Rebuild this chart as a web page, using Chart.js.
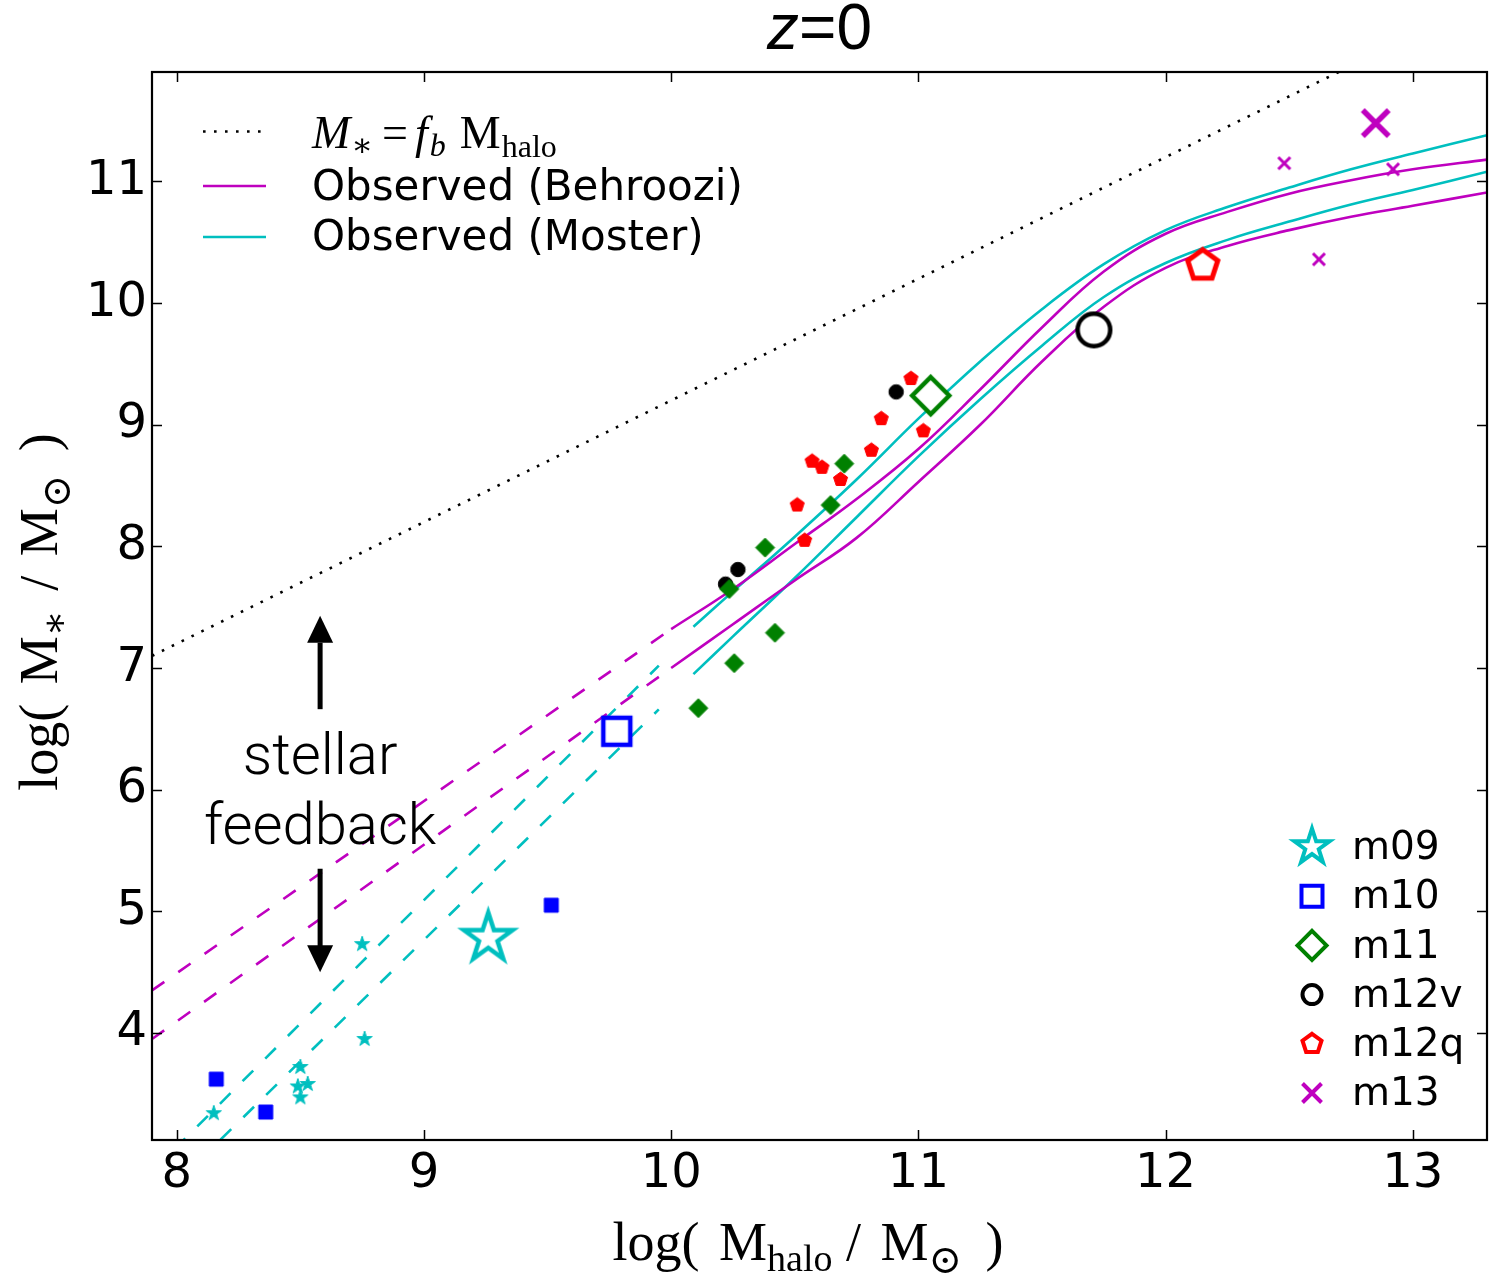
<!DOCTYPE html>
<html>
<head>
<meta charset="utf-8">
<script src="https://cdn.jsdelivr.net/npm/chart.js@4.4.1/dist/chart.umd.min.js"></script>
<style>
  html, body { margin: 0; padding: 0; background: #ffffff; }
  #wrap { width: 1490px; height: 1277px; }
</style>
</head>
<body>
<div id="wrap"><canvas id="smhm" width="1490" height="1277"></canvas></div>
<script>
// ---- axes ----
const xTickValues = [8, 9, 10, 11, 12, 13];
const yTickValues = [4, 5, 6, 7, 8, 9, 10, 11];
const xRange = [7.9, 13.3];
const yRange = [3.12, 11.9];

// ---- M* = f_b Mhalo ----
const fbLineX = [7.9, 13.3];
const fbLineY = [7.1, 12.5];

// ---- Behroozi relation: solid range and power-law extension ----
const behrooziX = [10.0, 10.25, 10.5, 10.75, 11.0, 11.25, 11.5, 11.75, 12.0, 12.25, 12.5, 12.75, 13.0, 13.3];
const behrooziHighY = [7.32, 7.65, 8.02, 8.39, 8.8, 9.29, 9.8, 10.26, 10.57, 10.75, 10.9, 11.01, 11.1, 11.18];
const behrooziLowY = [7.0, 7.36, 7.72, 8.07, 8.53, 9.0, 9.52, 9.97, 10.29, 10.47, 10.6, 10.71, 10.8, 10.91];
const behrooziExtX = [7.9, 10.0];
const behrooziHighExtY = [4.35, 7.32];
const behrooziLowExtY = [3.95, 7.0];

// ---- Moster relation: solid range and power-law extension ----
const mosterX = [10.09, 10.25, 10.5, 10.75, 11.0, 11.25, 11.5, 11.75, 12.0, 12.25, 12.5, 12.75, 13.0, 13.3];
const mosterHighY = [7.34, 7.63, 8.08, 8.55, 9.05, 9.52, 9.95, 10.32, 10.6, 10.79, 10.95, 11.1, 11.23, 11.38];
const mosterLowY = [6.95, 7.26, 7.74, 8.24, 8.74, 9.21, 9.65, 10.05, 10.33, 10.52, 10.67, 10.81, 10.93, 11.08];
const mosterExtX = [7.9, 9.95];
const mosterHighExtY = [2.86, 7.02];
const mosterLowExtY = [2.57, 6.66];

// ---- main simulated haloes ----
const haloNames = ['m09', 'm10', 'm11', 'm12v', 'm12q', 'm13'];
const mainX = [9.26, 9.78, 11.05, 11.71, 12.15, 12.85];
const mainY = [4.78, 6.48, 9.24, 9.78, 10.31, 11.48];

// ---- satellite / neighbouring haloes in each run ----
const m09SubX = [8.15, 8.50, 8.49, 8.53, 8.50, 8.75, 8.76];
const m09SubY = [3.34, 3.72, 3.56, 3.58, 3.47, 4.73, 3.95];
const m10SubX = [8.16, 8.36, 9.515];
const m10SubY = [3.62, 3.35, 5.05];
const m11SubX = [10.235, 10.38, 10.645, 10.70, 10.42, 10.255, 10.11];
const m11SubY = [7.65, 7.99, 8.34, 8.68, 7.29, 7.04, 6.67];
const m12vSubX = [10.22, 10.27, 10.91];
const m12vSubY = [7.69, 7.81, 9.27];
const m12qSubX = [10.97, 10.85, 11.02, 10.81, 10.57, 10.61, 10.685, 10.51, 10.54];
const m12qSubY = [9.38, 9.05, 8.95, 8.79, 8.70, 8.65, 8.55, 8.34, 8.05];
const m13SubX = [12.48, 12.92, 12.62];
const m13SubY = [11.15, 11.10, 10.36];

const COL = {
  cyan: 'rgb(0,191,191)',
  magenta: 'rgb(191,0,191)',
  blue: '#0000ff',
  green: '#008000',
  black: '#000000',
  red: '#ff0000'
};

function traceShape(g, shape, r) {
  g.beginPath();
  if (shape === 'star') {
    for (let i = 0; i < 10; i++) {
      const rr = i % 2 === 0 ? r : r * 0.381966;
      const a = -Math.PI / 2 + i * Math.PI / 5;
      const px = rr * Math.cos(a), py = rr * Math.sin(a);
      if (i === 0) g.moveTo(px, py); else g.lineTo(px, py);
    }
    g.closePath();
  } else if (shape === 'pentagon') {
    for (let i = 0; i < 5; i++) {
      const a = -Math.PI / 2 + i * 2 * Math.PI / 5;
      const px = r * Math.cos(a), py = r * Math.sin(a);
      if (i === 0) g.moveTo(px, py); else g.lineTo(px, py);
    }
    g.closePath();
  } else if (shape === 'square') {
    g.rect(-r, -r, 2 * r, 2 * r);
  } else if (shape === 'diamond') {
    g.moveTo(0, -r); g.lineTo(r, 0); g.lineTo(0, r); g.lineTo(-r, 0); g.closePath();
  } else if (shape === 'circle') {
    g.arc(0, 0, r, 0, Math.PI * 2);
  } else if (shape === 'x') {
    g.moveTo(-r, -r); g.lineTo(r, r); g.moveTo(-r, r); g.lineTo(r, -r);
  }
}

function paintShape(g, shape, r, lw, stroke, fill) {
  traceShape(g, shape, r);
  if (fill && shape !== 'x') { g.fillStyle = fill; g.fill(); }
  if (lw > 0) {
    g.lineWidth = lw; g.strokeStyle = stroke; g.lineJoin = 'miter'; g.miterLimit = 10;
    g.stroke();
  }
}

function markerCanvas(shape, r, lw, stroke, fill) {
  const size = Math.ceil(2 * (r + lw * 2 + 2));
  const cv = document.createElement('canvas');
  cv.width = size; cv.height = size;
  const g = cv.getContext('2d');
  g.translate(size / 2, size / 2);
  paintShape(g, shape, r, lw, stroke, fill);
  return cv;
}

// marker look per run: shape, colour, open (main) / filled (others)
const runStyle = {
  m09:  { shape: 'star',     color: COL.cyan,    big: [25.5, 4.5], small: [8, 1],   legend: [18.5, 4] },
  m10:  { shape: 'square',   color: COL.blue,    big: [13.5, 4.5], small: [7, 1],   legend: [10.5, 4] },
  m11:  { shape: 'diamond',  color: COL.green,   big: [18.5, 4.5], small: [9.5, 1], legend: [14.5, 4] },
  m12v: { shape: 'circle',   color: COL.black,   big: [16.3, 4.5], small: [7.2, 1], legend: [9.5, 4] },
  m12q: { shape: 'pentagon', color: COL.red,     big: [15.8, 5],   small: [7.4, 1], legend: [10, 4] },
  m13:  { shape: 'x',        color: COL.magenta, big: [13, 5.5],   small: [6, 3],   legend: [9.5, 4] }
};

const pts = (xs, ys) => xs.map((x, i) => ({ x: x, y: ys[i] }));

function lineSet(xs, ys, color, dash, extra) {
  return Object.assign({
    type: 'line',
    data: pts(xs, ys),
    borderColor: color,
    borderWidth: 2.6,
    borderDash: dash || [],
    pointRadius: 0,
    fill: false,
    showLine: true,
    order: 5
  }, extra || {});
}

const subData = {
  m09: [m09SubX, m09SubY], m10: [m10SubX, m10SubY], m11: [m11SubX, m11SubY],
  m12v: [m12vSubX, m12vSubY], m12q: [m12qSubX, m12qSubY], m13: [m13SubX, m13SubY]
};

const datasets = [];
// reference and observed relations
datasets.push(lineSet(fbLineX, fbLineY, '#000000', [2.6, 8.4], { label: 'fb' }));
datasets.push(lineSet(behrooziExtX, behrooziHighExtY, COL.magenta, [15, 17]));
datasets.push(lineSet(behrooziExtX, behrooziLowExtY, COL.magenta, [15, 17]));
datasets.push(lineSet(mosterExtX, mosterHighExtY, COL.cyan, [15, 17]));
datasets.push(lineSet(mosterExtX, mosterLowExtY, COL.cyan, [15, 17]));
datasets.push(lineSet(behrooziX, behrooziHighY, COL.magenta, null, { tension: 0.4 }));
datasets.push(lineSet(behrooziX, behrooziLowY, COL.magenta, null, { tension: 0.4 }));
datasets.push(lineSet(mosterX, mosterHighY, COL.cyan, null, { tension: 0.4 }));
datasets.push(lineSet(mosterX, mosterLowY, COL.cyan, null, { tension: 0.4 }));

// filled small markers, then open large markers on top
haloNames.forEach(name => {
  const st = runStyle[name];
  const img = markerCanvas(st.shape, st.small[0], st.small[1], st.color, st.color);
  datasets.push({
    type: 'scatter', label: name + ' others',
    data: pts(subData[name][0], subData[name][1]),
    pointStyle: img, pointRadius: 8, showLine: false, order: 2
  });
});
haloNames.forEach((name, i) => {
  const st = runStyle[name];
  const img = markerCanvas(st.shape, st.big[0], st.big[1], st.color, '#ffffff');
  datasets.push({
    type: 'scatter', label: name,
    data: [{ x: mainX[i], y: mainY[i] }],
    pointStyle: img, pointRadius: 20, showLine: false, order: 1
  });
});

// text drawn as a row of differently styled runs
function drawRuns(ctx, runs, x, y, align) {
  let total = 0;
  runs.forEach(r => { ctx.font = r.font; r.w = ctx.measureText(r.text).width + (r.gap || 0); total += r.w; });
  let cx = align === 'center' ? x - total / 2 : x;
  ctx.textAlign = 'left';
  ctx.textBaseline = 'alphabetic';
  runs.forEach(r => { ctx.font = r.font; ctx.fillText(r.text, cx, y + (r.dy || 0)); cx += r.w; });
}

function drawArrow(ctx, x, yTail, yTip) {
  const dir = Math.sign(yTip - yTail);
  const headLen = 27, headHalf = 13, shaft = 5;
  const base = yTip - dir * headLen;
  ctx.fillRect(x - shaft / 2, Math.min(yTail, base), shaft, Math.abs(base - yTail) + 1);
  ctx.beginPath();
  ctx.moveTo(x, yTip); ctx.lineTo(x - headHalf, base); ctx.lineTo(x + headHalf, base);
  ctx.closePath(); ctx.fill();
}

const SERIF = "'Liberation Serif', 'DejaVu Serif', serif";
const SANS = "'DejaVu Sans', sans-serif";
const LIGHT = "300 58px Roboto, 'Liberation Sans', sans-serif";

const decor = {
  id: 'decor',
  afterDatasetsDraw(chart) {
    const ctx = chart.ctx, a = chart.chartArea;
    const xs = chart.scales.x, ys = chart.scales.y;
    ctx.save();
    ctx.fillStyle = '#000';
    // feedback arrows
    const ax = xs.getPixelForValue(8.58);
    drawArrow(ctx, ax, ys.getPixelForValue(6.67), ys.getPixelForValue(7.43));
    drawArrow(ctx, ax, ys.getPixelForValue(5.35), ys.getPixelForValue(4.50));
    // inward ticks on all sides
    ctx.strokeStyle = '#000';
    ctx.lineWidth = 1.5;
    ctx.beginPath();
    xTickValues.forEach(v => {
      const px = Math.round(xs.getPixelForValue(v)) + 0.5;
      ctx.moveTo(px, a.bottom); ctx.lineTo(px, a.bottom - 10);
      ctx.moveTo(px, a.top); ctx.lineTo(px, a.top + 10);
    });
    yTickValues.forEach(v => {
      const py = Math.round(ys.getPixelForValue(v)) + 0.5;
      ctx.moveTo(a.left, py); ctx.lineTo(a.left + 10, py);
      ctx.moveTo(a.right, py); ctx.lineTo(a.right - 10, py);
    });
    ctx.stroke();
    // frame
    ctx.lineWidth = 2.2;
    ctx.strokeRect(a.left, a.top, a.right - a.left, a.bottom - a.top);
    ctx.restore();
  },
  afterDraw(chart) {
    const ctx = chart.ctx, a = chart.chartArea;
    const xs = chart.scales.x, ys = chart.scales.y;
    ctx.save();
    ctx.fillStyle = '#000';
    const midX = (a.left + a.right) / 2;

    // title
    drawRuns(ctx, [
      { text: 'z', font: "italic 64px 'Liberation Sans', sans-serif" },
      { text: '=0', font: "64px 'Liberation Sans', sans-serif" }
    ], midX, 49, 'center');

    // x axis label
    const big = '54px ' + SERIF, sub = '38px ' + SERIF, odot = '40px ' + SERIF;
    drawRuns(ctx, [
      { text: 'log( ', font: big, gap: 6 },
      { text: 'M', font: big },
      { text: 'halo', font: sub, dy: 11 },
      { text: ' / ', font: big, gap: 6 },
      { text: 'M', font: big },
      { text: '\u2299', font: odot, dy: 13, gap: 10 },
      { text: ' )', font: big }
    ], 808, 1260, 'center');

    // y axis label
    ctx.save();
    ctx.translate(57, (a.top + a.bottom) / 2 + 6);
    ctx.rotate(-Math.PI / 2);
    drawRuns(ctx, [
      { text: 'log( ', font: big, gap: 6 },
      { text: 'M', font: big },
      { text: '\u2217', font: sub, dy: 10, gap: 6 },
      { text: ' / ', font: big, gap: 6 },
      { text: 'M', font: big },
      { text: '\u2299', font: odot, dy: 13, gap: 10 },
      { text: ' )', font: big }
    ], 0, 0, 'center');
    ctx.restore();

    // stellar feedback note
    ctx.textAlign = 'center';
    ctx.textBaseline = 'alphabetic';
    ctx.font = LIGHT;
    const tx = xs.getPixelForValue(8.58);
    ctx.fillText('stellar', tx, ys.getPixelForValue(6.13));
    ctx.fillText('feedback', tx, ys.getPixelForValue(5.555));

    // legend for relations (upper left)
    ctx.lineWidth = 2.6;
    ctx.setLineDash([2.6, 8.4]);
    ctx.strokeStyle = '#000';
    ctx.beginPath(); ctx.moveTo(203, 131.5); ctx.lineTo(266, 131.5); ctx.stroke();
    ctx.setLineDash([]);
    ctx.strokeStyle = COL.magenta;
    ctx.beginPath(); ctx.moveTo(203, 186); ctx.lineTo(266, 186); ctx.stroke();
    ctx.strokeStyle = COL.cyan;
    ctx.beginPath(); ctx.moveTo(203, 237); ctx.lineTo(266, 237); ctx.stroke();

    const lm = '46px ' + SERIF, lmi = 'italic 46px ' + SERIF, ls = '32px ' + SERIF, lsi = 'italic 32px ' + SERIF;
    drawRuns(ctx, [
      { text: 'M', font: lmi, gap: 1 },
      { text: '\u2217', font: ls, dy: 8, gap: 9 },
      { text: '=', font: lm, gap: 7 },
      { text: 'f', font: lmi, gap: 2 },
      { text: 'b', font: lsi, dy: 8, gap: 14 },
      { text: 'M', font: lm, gap: 1 },
      { text: 'halo', font: ls, dy: 9 }
    ], 312, 148, 'left');

    ctx.font = '42px ' + SANS;
    ctx.textAlign = 'left';
    ctx.textBaseline = 'alphabetic';
    ctx.fillText('Observed (Behroozi)', 312, 200);
    ctx.fillText('Observed (Moster)', 312, 250);

    // legend for simulated haloes (lower right)
    ctx.font = '39px ' + SANS;
    ctx.textBaseline = 'middle';
    haloNames.forEach((name, i) => {
      const st = runStyle[name];
      const y = 847 + i * 49.2;
      ctx.save();
      ctx.translate(1312, y);
      paintShape(ctx, st.shape, st.legend[0], st.legend[1], st.color, '#ffffff');
      ctx.restore();
      ctx.fillStyle = '#000';
      ctx.fillText(name, 1352, y + 2);
    });
    ctx.restore();
  }
};

const tickFont = { family: 'DejaVu Sans', size: 48 };

new Chart(document.getElementById('smhm'), {
  type: 'scatter',
  data: { datasets: datasets },
  options: {
    responsive: false,
    animation: false,
    events: [],
    layout: { autoPadding: false, padding: { top: 72, right: 3, bottom: 0, left: 0 } },
    plugins: { legend: { display: false }, tooltip: { enabled: false }, title: { display: false } },
    scales: {
      x: {
        type: 'linear', min: xRange[0], max: xRange[1],
        afterBuildTicks: s => { s.ticks = xTickValues.map(v => ({ value: v })); },
        afterFit: s => { s.height = 137; s.paddingLeft = 0; s.paddingRight = 0; },
        grid: { display: false, drawTicks: false },
        border: { display: false },
        ticks: { font: tickFont, color: '#000', padding: 6, maxRotation: 0, autoSkip: false, callback: v => String(v) }
      },
      y: {
        type: 'linear', min: yRange[0], max: yRange[1],
        afterBuildTicks: s => { s.ticks = yTickValues.map(v => ({ value: v })); },
        afterFit: s => { s.width = 152; s.paddingTop = 0; s.paddingBottom = 0; },
        grid: { display: false, drawTicks: false },
        border: { display: false },
        ticks: { font: tickFont, color: '#000', padding: 5, autoSkip: false, callback: v => String(v) }
      }
    }
  },
  plugins: [decor]
});
</script>
</body>
</html>
